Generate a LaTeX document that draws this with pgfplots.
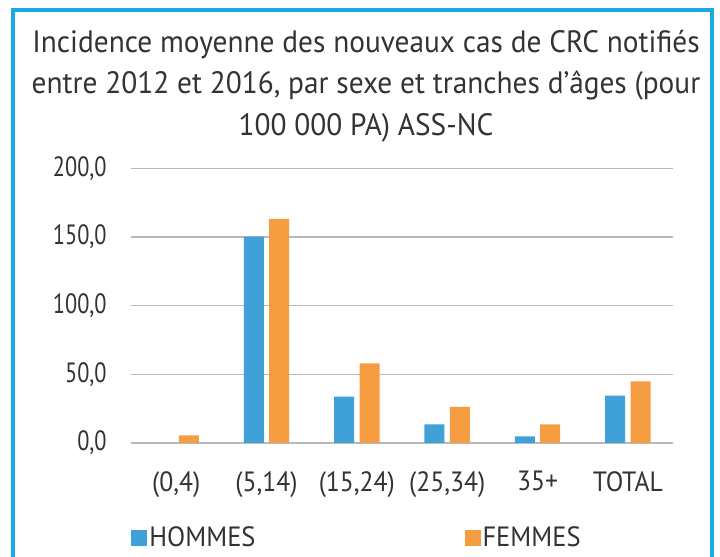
\documentclass[border=0pt]{standalone}
\usepackage{fontspec}
\setmainfont{PT Sans}
\newfontfamily\titlefont{PT Sans}[FakeStretch=0.95]
\newfontfamily\yfont{PT Sans}[FakeStretch=0.8]
\newfontfamily\xfont{PT Sans}[FakeStretch=0.92]
\newfontfamily\legfont{PT Sans}[FakeStretch=0.95]
\usepackage{pgfplots}
\pgfplotsset{compat=1.18}
\definecolor{hommes}{HTML}{40A0D8}
\definecolor{femmes}{HTML}{F79D41}
\definecolor{gridgray}{HTML}{B8B8BE}
\definecolor{framecol}{HTML}{1AABE6}
\definecolor{txt}{HTML}{333333}

\begin{document}
\begin{tikzpicture}[x=0.5bp,y=0.5bp]
\fill[white] (0,0) rectangle (720,557);
\useasboundingbox (0,0) rectangle (720,557);
\draw[framecol, line width=1.75bp] (13,547) rectangle (712,-20);
\begin{scope}[every node/.style={font=\titlefont\fontsize{15.5}{18}\selectfont, text=txt, anchor=base, inner sep=0pt}]
\node at (366,557-53) {Incidence moyenne des nouveaux cas de CRC notifiés};
\node at (366,557-94) {entre 2012 et 2016, par sexe et tranches d’âges (pour};
\node at (366,557-136) {100 000 PA) ASS-NC};
\end{scope}
\begin{axis}[
  at={(65.5bp,57bp)}, anchor=south west,
  scale only axis,
  width=271bp, height=137.25bp,
  ymin=0, ymax=200,
  xmin=-0.5, xmax=5.5,
  ytick={0,50,100,150,200},
  xtick={0,...,5},
  xticklabels={(0,4),(5,14),(15,24),(25,34),35+,TOTAL},
  ymajorgrids,
  grid style={gridgray, line width=0.75bp},
  axis line style={draw=none},
  major tick length=0pt,
  ybar,
  bar width=10bp,
  ticklabel style={text=txt, inner sep=0pt},
  yticklabel style={font=\yfont\fontsize{14}{16}\selectfont, anchor=east, xshift=-12bp},
  xticklabel style={font=\xfont\fontsize{14}{16}\selectfont, anchor=north, yshift=-14bp},
  /pgf/number format/.cd, fixed, fixed zerofill, precision=1, use comma, 1000 sep={}, assume math mode=true,
  /pgfplots/.cd,
  legend columns=2,
  legend style={at={(0.0,-0.345)}, anchor=west, draw=none, fill=none, inner sep=0pt,
    font=\legfont\fontsize{14}{16}\selectfont, text=txt,
    nodes={inner sep=1bp},
    /tikz/every even column/.append style={column sep=103.5bp}},
  legend image code/.code={\fill[#1] (0bp,-4bp) rectangle (8bp,4bp);},
]
\addplot[fill=hommes, draw=none, bar shift=-6.35bp] coordinates {
  (0,0) (1,150.3) (2,33.7) (3,13.6) (4,4.8) (5,34.5)
};
\addplot[fill=femmes, draw=none, bar shift=6.35bp] coordinates {
  (0,5.5) (1,163.2) (2,58.0) (3,26.4) (4,13.6) (5,44.9)
};
\legend{HOMMES,FEMMES}
\end{axis}
\end{tikzpicture}
\end{document}
